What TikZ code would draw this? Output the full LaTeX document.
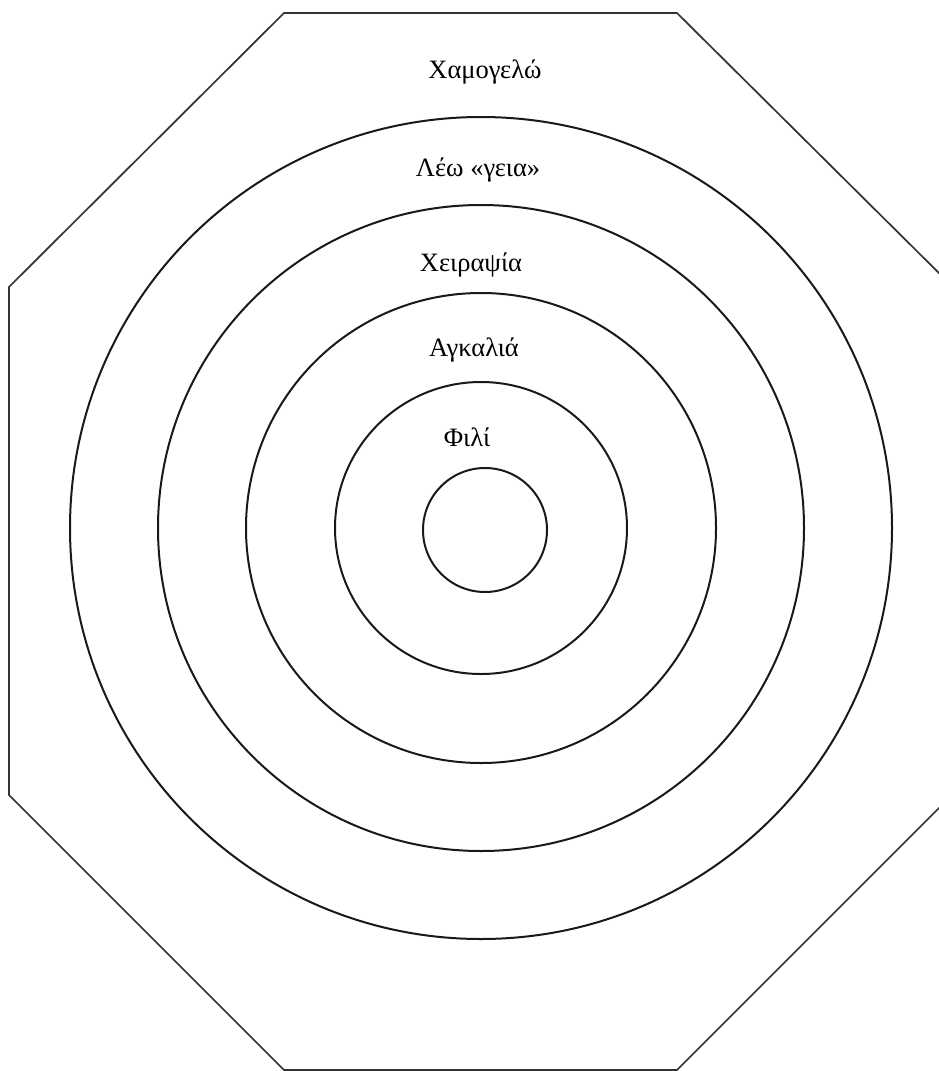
\documentclass[tikz,border=0pt]{standalone}
\usepackage{fontspec}
\setmainfont{Liberation Serif}
\begin{document}
\begin{tikzpicture}[x=1pt,y=-1pt,
  ring/.style={draw=black!90,line width=2pt},
  lbl/.style={font=\fontsize{26.5}{30}\selectfont,inner sep=0pt,anchor=base}]
\useasboundingbox (0,0) rectangle (939,1071);
\fill[white] (0,0) rectangle (939,1071);
\begin{scope}
\clip (0,0) rectangle (939,1071);
\draw[black!80,line width=1.7pt,line join=miter]
  (284,13) -- (677,13) -- (952,286) -- (952,795) -- (677,1070)
  -- (284,1070) -- (9,795) -- (9,287) -- cycle;
\end{scope}
\coordinate (c) at (481,528);
\draw[ring] (c) circle (411);
\draw[ring] (c) circle (323);
\draw[ring] (c) circle (235);
\draw[ring] (c) circle (146);
\draw[ring] (485,530) circle (62);
\node[lbl] (t1) at (485,78) {Χαμογελώ};
\node[lbl] (t2) at (478,176) {Λέω «γεια»};
\node[lbl] (t3) at (471,271) {Χειραψία};
\node[lbl] (t4) at (474,356) {Αγκαλιά};
\node[lbl] (t5) at (467,446) {Φιλί};
\end{tikzpicture}
\end{document}
